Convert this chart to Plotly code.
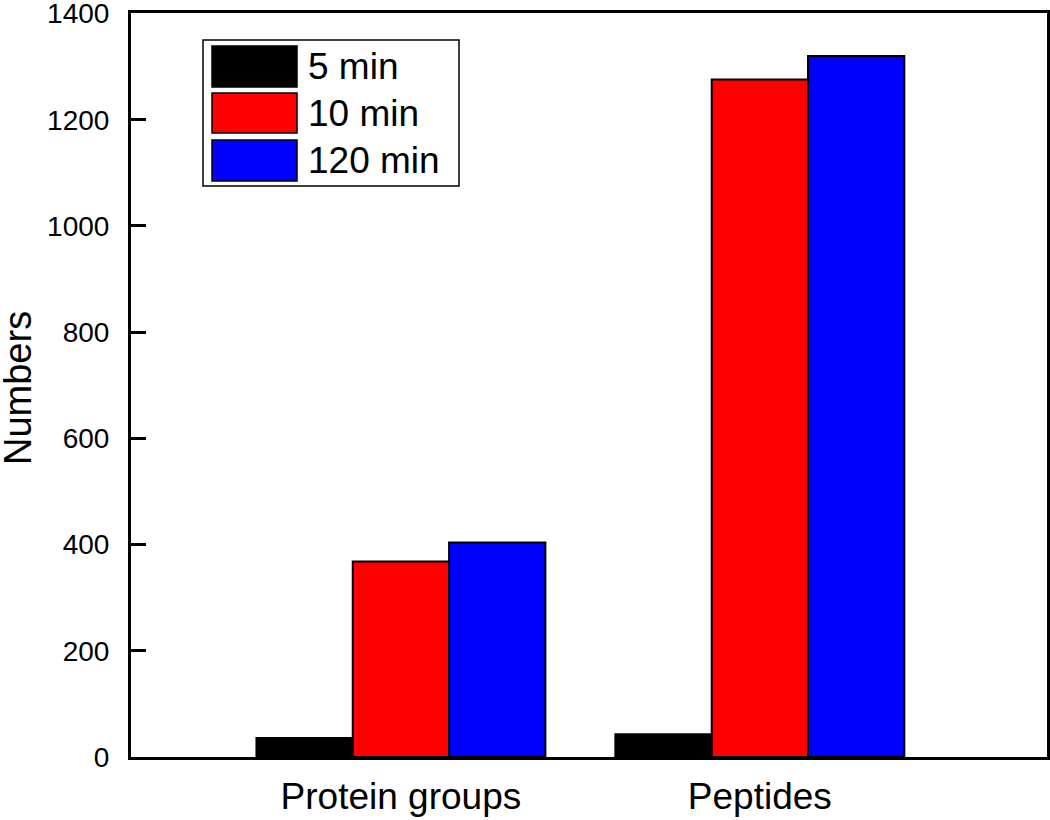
import plotly.graph_objects as go

categories = ["Protein groups", "Peptides"]
series_names = ["5 min", "10 min", "120 min"]
values_5min = [36, 43]
values_10min = [368, 1276]
values_120min = [404, 1320]
colors = ["#000000", "#FF0000", "#0000FF"]
y_ticks = [0, 200, 400, 600, 800, 1000, 1200, 1400]
y_title = "Numbers"

W, H = 1050, 820
L, R, T, B = 131, 3, 13, 63

fig = go.Figure()
for name, vals, col in zip(series_names, [values_5min, values_10min, values_120min], colors):
    fig.add_trace(go.Bar(
        x=categories, y=vals, name=name,
        marker=dict(color=col, line=dict(color="black", width=2)),
        showlegend=False,
    ))

font_family = "Liberation Sans, Arial, sans-serif"

fig.update_layout(
    width=W, height=H,
    margin=dict(l=L, r=R, t=T, b=B, autoexpand=False),
    paper_bgcolor="white", plot_bgcolor="white",
    barmode="group", bargap=0.195, bargroupgap=0,
    font=dict(family=font_family, color="black"),
    xaxis=dict(
        type="category", range=[-0.752, 1.8], automargin=False,
        showline=True, linecolor="black", linewidth=3, mirror=True,
        ticks="", showgrid=False, zeroline=False,
        tickfont=dict(size=37, family=font_family, color="black"),
        ticklabelstandoff=5,
    ),
    yaxis=dict(
        range=[0, 1401], tickvals=y_ticks, automargin=False,
        showline=True, linecolor="black", linewidth=3, mirror=True,
        ticks="inside", ticklen=15, tickwidth=3, tickcolor="black",
        showgrid=False, zeroline=False,
        tickfont=dict(size=28, family=font_family, color="black"),
        ticklabelstandoff=13, ticklabeloverflow="allow",
    ),
)

pw, ph = W - L - R, H - T - B
def px(x):
    return (x - L) / pw
def py(y):
    return (H - B - y) / ph

# y-axis title placed as rotated text
fig.add_annotation(xref="paper", yref="paper", x=px(18), y=py(388),
                   text=y_title, textangle=-90, showarrow=False,
                   xanchor="center", yanchor="middle",
                   font=dict(size=38, family=font_family, color="black"))

# Manual legend (large swatches as in the reference)
fig.add_shape(type="rect", xref="paper", yref="paper",
              x0=px(203), x1=px(459), y0=py(186), y1=py(40),
              line=dict(color="black", width=1.5), fillcolor="white", layer="above")
rows = [(46, 87), (93, 133), (140, 181)]
for (y0, y1), name, col in zip(rows, series_names, colors):
    fig.add_shape(type="rect", xref="paper", yref="paper",
                  x0=px(212), x1=px(297), y0=py(y1), y1=py(y0),
                  line=dict(color="black", width=1.5), fillcolor=col, layer="above")
    fig.add_annotation(xref="paper", yref="paper", x=px(306), y=py((y0 + y1) / 2),
                       text=name, showarrow=False, xanchor="left", yanchor="middle",
                       font=dict(size=37, family=font_family, color="black"))

fig.write_html("out.html", config={"displayModeBar": False},
               post_script="document.body.style.margin='0';document.body.style.overflow='hidden';")
